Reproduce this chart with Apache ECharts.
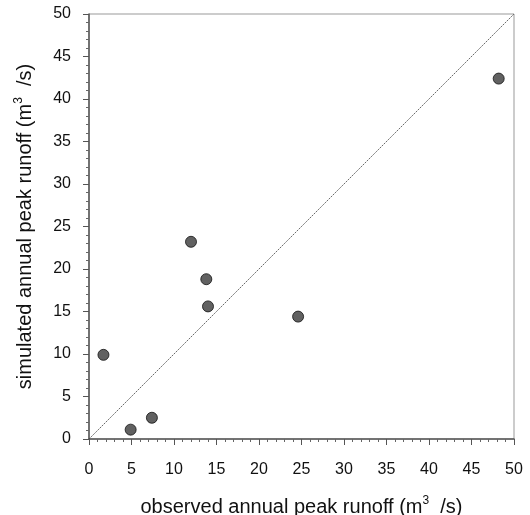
<!DOCTYPE html>
<html>
<head>
<meta charset="utf-8">
<script src="https://cdn.jsdelivr.net/npm/echarts@6/dist/echarts.min.js"></script>
<style>html,body{margin:0;padding:0;background:#fff}#c{width:530px;height:515px}</style>
</head>
<body>
<div id="c"></div>
<script>
const observed = [1.7, 4.9, 7.4, 12.0, 13.8, 14.0, 24.6, 48.2];
const simulated = [9.9, 1.1, 2.5, 23.2, 18.8, 15.6, 14.4, 42.4];
const oneToOne = [0, 50];
const axisMin = 0, axisMax = 50, axisStep = 5;

const points = observed.map((o, i) => [o, simulated[i]]);
const diag = oneToOne.map(v => [v, v]);

const chart = echarts.init(document.getElementById('c'), null, {renderer: 'canvas'});
const font = 'Liberation Sans, Arial, sans-serif';
const axisCommon = {
  type: 'value', min: axisMin, max: axisMax, interval: axisStep,
  axisLine: {show: true, onZero: false, lineStyle: {color: '#555', width: 1.5}},
  axisTick: {show: true, inside: false, length: 6, lineStyle: {color: '#555', width: 1}},
  minorTick: {show: true, splitNumber: 5, length: 3, lineStyle: {color: '#666', width: 1}},
  splitLine: {show: false},
  axisLabel: {color: '#111', fontSize: 16, fontFamily: font},
  nameLocation: 'middle',
  nameTextStyle: {
    color: '#111', fontSize: 20, fontFamily: font,
    rich: {sup: {fontSize: 12, verticalAlign: 'top', padding: [0, 0, 12, 0], color: '#111', fontFamily: font}}
  }
};
chart.setOption({
  animation: false,
  backgroundColor: '#fff',
  grid: {left: 89, right: 16, top: 14, bottom: 76, containLabel: false, outerBoundsMode: 'none',
         show: true, borderColor: '#999', borderWidth: 1},
  xAxis: Object.assign({}, axisCommon, {
    name: 'observed annual peak runoff (m{sup|3}  /s)', nameGap: 56,
    axisLabel: Object.assign({}, axisCommon.axisLabel, {margin: 23})
  }),
  yAxis: Object.assign({}, axisCommon, {
    name: 'simulated annual peak runoff (m{sup|3}  /s)', nameGap: 52,
    axisLabel: Object.assign({}, axisCommon.axisLabel, {margin: 18})
  }),
  series: [
    {
      type: 'line', data: diag, symbol: 'none', silent: true,
      lineStyle: {color: '#444', width: 0.8, type: [2, 1]}
    },
    {
      type: 'scatter', data: points, symbol: 'circle', symbolSize: 11,
      itemStyle: {color: '#3a3a3a', borderColor: '#111', borderWidth: 1}
    }
  ]
});
</script>
</body>
</html>
